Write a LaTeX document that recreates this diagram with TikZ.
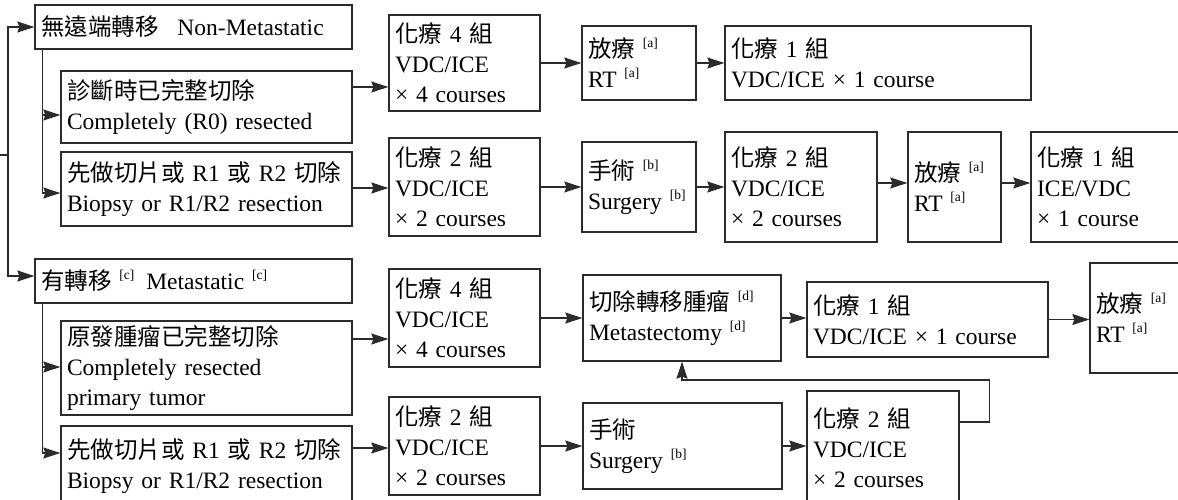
\documentclass[tikz,border=0pt]{standalone}
\usepackage{fontspec}
\setmainfont{Liberation Serif}
\newfontfamily\cjk{Noto Sans CJK TC}
\usetikzlibrary{arrows.meta}
\definecolor{ink}{HTML}{2B2B2B}

% Chinese text run
\newcommand\zh[1]{{\cjk #1}}
% bracketed note marker, raised
\newcommand\refmark[1]{\raisebox{10pt}{\fontsize{13.5}{13.5}\selectfont[#1]}}
% box given by its corners (x1,y1) (x2,y2) in px, text left aligned
\newcommand\boxnode[6]{%
  \pgfmathsetmacro\bw{#4-#2}%
  \pgfmathsetmacro\bh{#5-#3}%
  \pgfmathsetmacro\tw{#4-#2-12}%
  \pgfmathsetmacro\bcx{(#2+#4)/2}%
  \pgfmathsetmacro\bcy{(#3+#5)/2}%
  \node[box, minimum width=\bw pt, minimum height=\bh pt, text width=\tw pt] (#1) at (\bcx,\bcy) {#6};%
}

\begin{document}
\begin{tikzpicture}[x=1pt,y=-1pt,
  box/.style={draw=ink, line width=1.3pt, rectangle, inner xsep=6pt, inner ysep=0pt,
    align=left, font={\fontsize{23.5}{30}\selectfont}, text=black},
  link/.style={draw=ink, line width=1.3pt},
  arr/.style={link, -{Stealth[length=17pt,width=11pt,inset=2pt]}}]
\useasboundingbox (0,0) rectangle (1178,499);
\clip (0,0) rectangle (1178,499);

% left column: stage and resection status
\boxnode{nm}{35}{5}{352}{49}{\zh{無遠端轉移}\hspace{19pt}Non-Metastatic}
\boxnode{r0}{61}{71}{352}{143}{\zh{診斷時已完整切除}\\Completely (R0) resected}
\boxnode{bxa}{61}{152}{352}{226}{\zh{先做切片或} R1 \zh{或} R2 \zh{切除}\\Biopsy or R1/R2 resection}
\boxnode{met}{35}{259}{352}{303}{\zh{有轉移} \refmark{c}\hspace{12pt}Metastatic \refmark{c}}
\boxnode{pt}{61}{321}{352}{415}{\zh{原發腫瘤已完整切除}\\Completely resected\\primary tumor}
\boxnode{bxb}{61}{426}{352}{506}{\zh{先做切片或} R1 \zh{或} R2 \zh{切除}\\Biopsy or R1/R2 resection}

% non-metastatic, R0
\boxnode{c4a}{389}{15}{540}{111}{\zh{化療} 4 \zh{組}\\VDC/ICE\\× 4 courses}
\boxnode{rta}{582}{26}{696}{100}{\zh{放療} \refmark{a}\\RT \refmark{a}}
\boxnode{c1a}{725}{26}{1031}{100}{\zh{化療} 1 \zh{組}\\VDC/ICE × 1 course}

% non-metastatic, biopsy or R1/R2
\boxnode{c2a}{389}{138}{540}{236}{\zh{化療} 2 \zh{組}\\VDC/ICE\\× 2 courses}
\boxnode{sga}{582}{142}{696}{232}{\zh{手術} \refmark{b}\\Surgery \refmark{b}}
\boxnode{c2b}{725}{132}{877}{242}{\zh{化療} 2 \zh{組}\\VDC/ICE\\× 2 courses}
\boxnode{rtb}{908}{132}{1001}{242}{\zh{放療} \refmark{a}\\RT \refmark{a}}
\boxnode{c1b}{1031}{132}{1200}{242}{\zh{化療} 1 \zh{組}\\ICE/VDC\\× 1 course}

% metastatic, primary resected
\boxnode{c4b}{389}{269}{540}{367}{\zh{化療} 4 \zh{組}\\VDC/ICE\\× 4 courses}
\boxnode{mts}{583}{275}{781}{361}{\zh{切除轉移腫瘤} \refmark{d}\\Metastectomy \refmark{d}}
\boxnode{c1c}{807}{282}{1048}{357}{\zh{化療} 1 \zh{組}\\VDC/ICE × 1 course}
\boxnode{rtc}{1090}{263}{1200}{373}{\zh{放療} \refmark{a}\\RT \refmark{a}}

% metastatic, biopsy or R1/R2
\boxnode{c2c}{389}{397}{540}{495}{\zh{化療} 2 \zh{組}\\VDC/ICE\\× 2 courses}
\boxnode{sgb}{583}{403}{782}{489}{\zh{手術}\\Surgery \refmark{b}}
\boxnode{c2d}{807}{391}{959}{505}{\zh{化療} 2 \zh{組}\\VDC/ICE\\× 2 courses}

% main trunk
\coordinate (root) at (0,155);
\coordinate (fork) at (8,155);
\draw[link] (root) -- (fork);
\draw[arr] (fork) |- (nm.west);
\draw[arr] (fork) |- ([yshift=5pt]met.west);

% branches under each stage
\draw[arr] ([xshift=8pt]nm.south west) |- ([yshift=-8pt]r0.west);
\draw[arr] ([xshift=8pt]nm.south west) |- ([yshift=-4pt]bxa.west);
\draw[arr] ([xshift=8pt]met.south west) |- ([yshift=1pt]pt.west);
\draw[arr] ([xshift=8pt]met.south west) |- ([yshift=13pt]bxb.west);

% treatment sequences
\draw[arr] ([yshift=20pt]r0.east) -- ([yshift=20pt]r0.east -| c4a.west);
\draw[arr] (c4a.east) -- (c4a.east -| rta.west);
\draw[arr] (rta.east) -- (rta.east -| c1a.west);

\draw[arr] ([yshift=1pt]bxa.east) -- ([yshift=1pt]bxa.east -| c2a.west);
\draw[arr] (c2a.east) -- (c2a.east -| sga.west);
\draw[arr] (sga.east) -- (sga.east -| c2b.west);
\draw[arr] ([yshift=4pt]c2b.east) -- ([yshift=4pt]c2b.east -| rtb.west);
\draw[arr] ([yshift=4pt]rtb.east) -- ([yshift=4pt]rtb.east -| c1b.west);

\draw[arr] ([yshift=29pt]pt.east) -- ([yshift=29pt]pt.east -| c4b.west);
\draw[arr] (c4b.east) -- (c4b.east -| mts.west);
\draw[arr] (mts.east) -- (mts.east -| c1c.west);
\draw[arr] (c1c.east) -- (c1c.east -| rtc.west);

\draw[arr] ([yshift=18pt]bxb.east) -- ([yshift=18pt]bxb.east -| c2c.west);
\draw[arr] (c2c.east) -- (c2c.east -| sgb.west);
\draw[arr] (sgb.east) -- (sgb.east -| c2d.west);

% return path to metastectomy
\draw[arr] ([yshift=26pt]c2d.east) -- ++(30,0) -- ++(0,-42) -| (mts.south);
\end{tikzpicture}
\end{document}
